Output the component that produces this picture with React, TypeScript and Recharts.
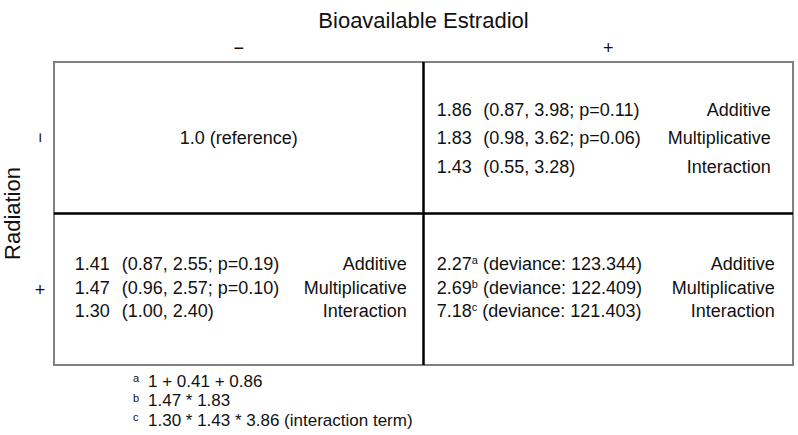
import { ScatterChart, Scatter, XAxis, YAxis, ReferenceLine, ReferenceArea } from "recharts"

const font = '"Liberation Sans", Arial, Helvetica, sans-serif'

// axis levels
const estradiolLevels = ["−", "+"]
const radiationLevels = ["−", "+"]
const models = ["Additive", "Multiplicative", "Interaction"]

// radiation only (estradiol -)
const radiationOnlyOr = ["1.41", "1.47", "1.30"]
const radiationOnlyCi = ["(0.87, 2.55; p=0.19)", "(0.96, 2.57; p=0.10)", "(1.00, 2.40)"]
// estradiol only (radiation -)
const estradiolOnlyOr = ["1.86", "1.83", "1.43"]
const estradiolOnlyCi = ["(0.87, 3.98; p=0.11)", "(0.98, 3.62; p=0.06)", "(0.55, 3.28)"]
// both
const jointOr = ["2.27", "2.69", "7.18"]
const jointNote = ["a", "b", "c"]
const jointDeviance = ["123.344", "122.409", "121.403"]
const referenceText = "1.0 (reference)"
const footnotes = ["1 + 0.41 + 0.86", "1.47 * 1.83", "1.30 * 1.43 * 3.86 (interaction term)"]

// cell centres: x = estradiol level + 0.5, y = radiation (top row is "-")
const cells = [
  { x: 0.5, y: 1.5, kind: "ref" },
  { x: 1.5, y: 1.5, kind: "estradiol" },
  { x: 0.5, y: 0.5, kind: "radiation" },
  { x: 1.5, y: 0.5, kind: "joint" },
]
const notePoint = [{ x: 0, y: 0 }]

const topStep = 28.5
const bottomStep = 23.5
const bottomShift = -2
const txt = { fontFamily: font, fontSize: 18, fill: "#111" }

const CellText = (props: any) => {
  const { cx, cy, payload } = props
  if (payload.kind === "ref") {
    return (
      <text x={cx} y={cy} dy="0.35em" textAnchor="middle" {...txt}>
        {referenceText}
      </text>
    )
  }
  const top = payload.kind === "estradiol"
  const rows = models.map((m, i) => {
    const y = top ? cy + (i - 1) * topStep : cy + bottomShift + (i - 1) * bottomStep
    if (payload.kind === "joint") {
      return (
        <g key={m}>
          <text x={cx - 171.5} y={y} dy="0.35em" {...txt}>
            {jointOr[i]}
            <tspan fontSize={11} dy={-6}>{jointNote[i]}</tspan>
            <tspan dy={6}>{` (deviance: ${jointDeviance[i]})`}</tspan>
          </text>
          <text x={cx + 166.5} y={y} dy="0.35em" textAnchor="end" {...txt}>
            {m}
          </text>
        </g>
      )
    }
    const left = payload.kind === "radiation"
    const or = left ? radiationOnlyOr : estradiolOnlyOr
    const ci = left ? radiationOnlyCi : estradiolOnlyCi
    return (
      <g key={m}>
        <text x={cx + (left ? -164 : -171.5)} y={y} dy="0.35em" {...txt}>
          {or[i]}
        </text>
        <text x={cx + (left ? -117 : -125)} y={y} dy="0.35em" {...txt}>
          {ci[i]}
        </text>
        <text x={cx + (left ? 168 : 162.5)} y={y} dy="0.35em" textAnchor="end" {...txt}>
          {m}
        </text>
      </g>
    )
  })
  return <g>{rows}</g>
}

const Footnotes = (props: any) => {
  const { cx, cy } = props
  return (
    <g>
      {footnotes.map((f, i) => {
        const y = cy + 16 + i * 19.5
        return (
          <g key={f}>
            <text x={cx + 79} y={y + 1} {...txt} fontSize={11}>
              {jointNote[i]}
            </text>
            <text x={cx + 94} y={y} dy="0.35em" {...txt} fontSize={17}>
              {f}
            </text>
          </g>
        )
      })}
    </g>
  )
}

const TopTick = (props: any) => {
  const { x, y, payload } = props
  return (
    <text x={x} y={y} dy="0.35em" textAnchor="middle" {...txt}>
      {estradiolLevels[payload.value > 1 ? 1 : 0]}
    </text>
  )
}

const LeftTick = (props: any) => {
  const { x, y, payload } = props
  const label = radiationLevels[payload.value > 1 ? 0 : 1]
  return (
    <text
      x={x}
      y={y}
      dy="0.35em"
      textAnchor="middle"
      {...txt}
      transform={label === "−" ? `rotate(-90, ${x}, ${y})` : undefined}
    >
      {label}
    </text>
  )
}

const TitleLabel = (props: any) => {
  const vb = props.viewBox || { x: 54, y: 0, width: 739, height: 62 }
  return (
    <text x={vb.x + vb.width / 2} y={20} dy="0.35em" textAnchor="middle" {...txt} fontSize={22}>
      Bioavailable Estradiol
    </text>
  )
}

const RadiationLabel = (props: any) => {
  const vb = props.viewBox || { x: 0, y: 62, width: 54, height: 303 }
  const cy = vb.y + vb.height / 2
  return (
    <text
      x={12}
      y={cy}
      dy="0.35em"
      textAnchor="middle"
      {...txt}
      fontSize={22}
      transform={`rotate(-90, 12, ${cy})`}
    >
      Radiation
    </text>
  )
}

export default function App() {
  return (
    <div style={{ position: "absolute", left: 0, top: 0, background: "#fff" }}>
      <ScatterChart width={798} height={435} margin={{ top: 0, right: 5, bottom: 70, left: 0 }}>
        <XAxis
          type="number"
          dataKey="x"
          domain={[0, 2]}
          ticks={[0.5, 1.5]}
          orientation="top"
          height={62}
          axisLine={false}
          tickLine={false}
          tickSize={0}
          tickMargin={14}
          tick={<TopTick />}
          label={{ content: <TitleLabel /> }}
        />
        <YAxis
          type="number"
          dataKey="y"
          domain={[0, 2]}
          ticks={[0.5, 1.5]}
          width={54}
          axisLine={false}
          tickLine={false}
          tickSize={0}
          tickMargin={14}
          tick={<LeftTick />}
          label={{ content: <RadiationLabel /> }}
        />
        <ReferenceArea x1={0} x2={2} y1={0} y2={2} fill="none" stroke="#808080" strokeWidth={2} />
        <ReferenceLine x={1} stroke="#000" strokeWidth={2.5} />
        <ReferenceLine y={1} stroke="#000" strokeWidth={2.5} />
        <Scatter data={cells} shape={<CellText />} isAnimationActive={false} />
        <Scatter data={notePoint} shape={<Footnotes />} isAnimationActive={false} />
      </ScatterChart>
    </div>
  )
}
